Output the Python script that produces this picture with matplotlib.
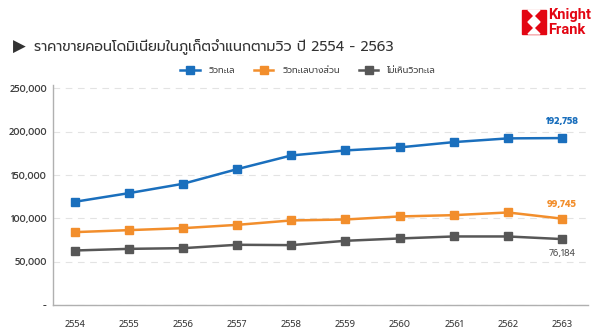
import matplotlib
matplotlib.use("Agg")
import matplotlib.pyplot as plt
from matplotlib.patches import Polygon, Rectangle

plt.rcParams['font.family'] = ['Prompt', 'DejaVu Sans']

years = ["2554", "2555", "2556", "2557", "2558", "2559", "2560", "2561", "2562", "2563"]
sea_view = [119200, 129200, 140000, 156900, 172700, 178500, 182000, 188100, 192400, 192758]
partial_view = [84200, 86500, 88800, 92600, 97700, 98800, 102300, 103800, 106900, 99745]
no_view = [63000, 64900, 65700, 69600, 69200, 74200, 76900, 79200, 79200, 76184]
names = ["วิวทะเล", "วิวทะเลบางส่วน", "ไม่เห็นวิวทะเล"]
colors = ["#1a6fbd", "#f28e2c", "#575757"]

fig = plt.figure(figsize=(6.1, 3.36), dpi=100)
ax = fig.add_axes([0.087, 0.092, 0.877, 0.655])

x = range(len(years))
lines = []
for vals, name, c in zip([sea_view, partial_view, no_view], names, colors):
    ln, = ax.plot(x, vals, color=c, lw=1.8, marker="s", markersize=5.5, label=name)
    lines.append(ln)

ax.annotate(f"{sea_view[-1]:,}", (9, sea_view[-1]), xytext=(0, 9), textcoords="offset points",
            ha="center", va="bottom", color=colors[0], fontsize=6.5, fontweight="bold")
ax.annotate(f"{partial_view[-1]:,}", (9, partial_view[-1]), xytext=(0, 7), textcoords="offset points",
            ha="center", va="bottom", color=colors[1], fontsize=6.5, fontweight="bold")
ax.annotate(f"{no_view[-1]:,}", (9, no_view[-1]), xytext=(0, -7), textcoords="offset points",
            ha="center", va="top", color=colors[2], fontsize=6.5)

ax.set_xlim(-0.4, 9.48)
ax.set_ylim(0, 254000)
ax.set_yticks(range(0, 250001, 50000))
ax.set_yticklabels(["-"] + [f"{v:,}" for v in range(50000, 250001, 50000)])
ax.set_xticks(list(x))
ax.set_xticklabels(years)
ax.tick_params(axis="both", length=0, labelsize=6.5, colors="#404040")
ax.tick_params(axis="x", pad=11)
ax.tick_params(axis="y", pad=4.5)
for lab in ax.get_yticklabels():
    lab.set_fontweight("medium")
ax.grid(axis="y", color="#e3e3e3", linestyle=(0, (6, 5)), lw=0.8)
ax.set_axisbelow(True)
for s in ["top", "right"]:
    ax.spines[s].set_visible(False)
for s in ["left", "bottom"]:
    ax.spines[s].set_color("#b0b0b0")
    ax.spines[s].set_linewidth(1.0)

fig.legend(handles=lines, loc="center", bbox_to_anchor=(0.505, 0.789), ncol=3, frameon=False,
           fontsize=6.3, handlelength=2.2, handletextpad=1.0, columnspacing=2.2,
           labelcolor="#404040")

fig.text(0.022, 0.86, "▶", fontsize=12, color="#333333", va="center", family=["DejaVu Sans"])
fig.text(0.056, 0.86, "ราคาขายคอนโดมิเนียมในภูเก็ตจำแนกตามวิว ปี 2554 - 2563",
         fontsize=10.2, color="#333333", va="center")

# Knight Frank logo
lx0, ly0, s = 522 / 610, 1 - 34 / 336, 24
w, h = s / 610, s / 336
fig.patches.append(Rectangle((lx0, ly0), w, h, transform=fig.transFigure, color="#e30613"))
white = [
    [(lx0 + w * 0.5, ly0 + h * 0.75), (lx0 + w * 0.75, ly0 + h * 0.5), (lx0 + w * 0.5, ly0 + h * 0.25), (lx0 + w * 0.25, ly0 + h * 0.5)],
    [(lx0 + w * 0.25, ly0 + h), (lx0 + w * 0.5, ly0 + h * 0.75), (lx0 + w * 0.75, ly0 + h)],
    [(lx0 + w * 0.25, ly0), (lx0 + w * 0.5, ly0 + h * 0.25), (lx0 + w * 0.75, ly0)],
]
for pts in white:
    fig.patches.append(Polygon(pts, closed=True, transform=fig.transFigure, color="white"))
fig.text(548 / 610, 1 - 15 / 336, "Knight", fontsize=10.5, color="#e30613", fontweight="bold",
         va="center", family=["Roboto", "DejaVu Sans"])
fig.text(548 / 610, 1 - 30 / 336, "Frank", fontsize=10.5, color="#e30613", fontweight="bold",
         va="center", family=["Roboto", "DejaVu Sans"])

fig.savefig("out.png", dpi=100)
